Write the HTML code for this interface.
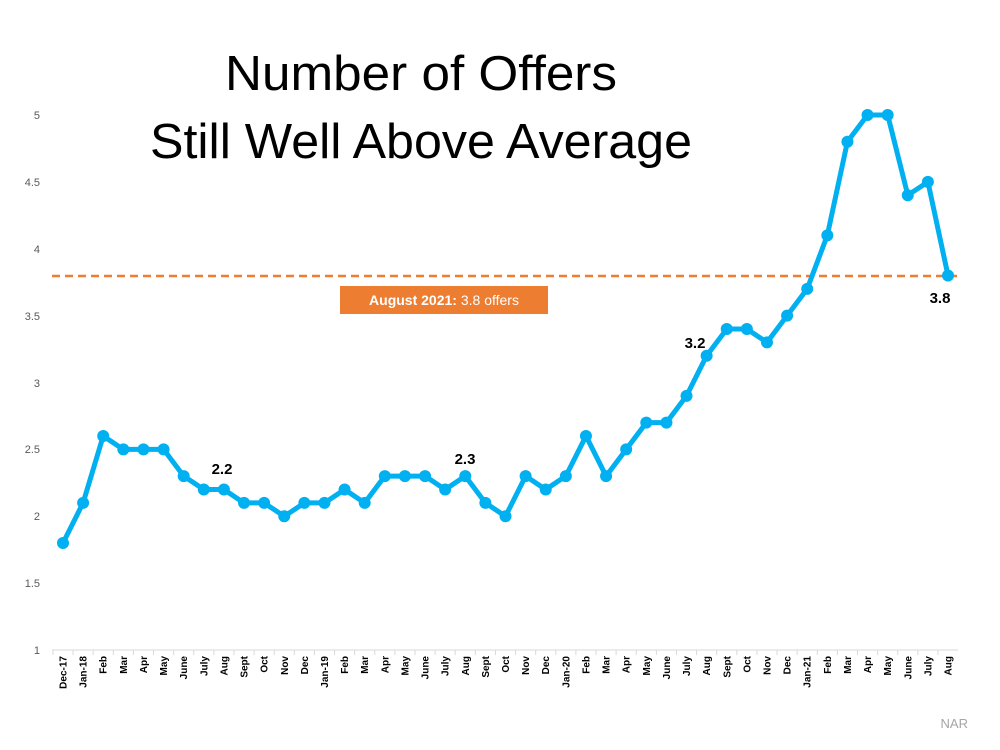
<!DOCTYPE html>
<html><head><meta charset="utf-8"><style>
body{margin:0;background:#fff;}
svg{display:block;font-family:"Liberation Sans",sans-serif;}
</style></head><body>
<svg width="1000" height="750" viewBox="0 0 1000 750" xmlns="http://www.w3.org/2000/svg">
<text x="421" y="90" font-size="49" text-anchor="middle" textLength="392" lengthAdjust="spacingAndGlyphs">Number of Offers</text>
<text x="421" y="158" font-size="49" text-anchor="middle" textLength="542" lengthAdjust="spacingAndGlyphs">Still Well Above Average</text>
<g font-size="11" fill="#595959" text-anchor="end">
<text x="40" y="119">5</text><text x="40" y="186">4.5</text><text x="40" y="253">4</text><text x="40" y="320">3.5</text><text x="40" y="387">3</text><text x="40" y="453">2.5</text><text x="40" y="520">2</text><text x="40" y="587">1.5</text><text x="40" y="654">1</text>
</g>
<line x1="52" y1="650" x2="958" y2="650" stroke="#d9d9d9" stroke-width="1"/>
<g id="ticks" stroke="#d9d9d9"></g>
<g id="xl" font-size="10" fill="#000" font-weight="bold"></g>
<line x1="52" y1="276" x2="958" y2="276" stroke="#ED7D31" stroke-width="2.5" stroke-dasharray="8,5"/>
<rect x="340" y="286" width="208" height="28" fill="#ED7D31"/>
<text x="444" y="305" font-size="14" fill="#fff" text-anchor="middle"><tspan font-weight="bold">August 2021:</tspan> 3.8 offers</text>
<polyline id="pl" fill="none" stroke="#00B0F0" stroke-width="5" stroke-linejoin="round"/>
<g id="pts" fill="#00B0F0"></g>
<g font-size="15" font-weight="bold">
<text x="222" y="474" text-anchor="middle">2.2</text>
<text x="465" y="464" text-anchor="middle">2.3</text>
<text x="695" y="348" text-anchor="middle">3.2</text>
<text x="940" y="303" text-anchor="middle">3.8</text>
</g>
<text x="968" y="728" font-size="13" fill="#a6a6a6" text-anchor="end">NAR</text>
</svg>
<script>
var v=[1.8,2.1,2.6,2.5,2.5,2.5,2.3,2.2,2.2,2.1,2.1,2.0,2.1,2.1,2.2,2.1,2.3,2.3,2.3,2.2,2.3,2.1,2.0,2.3,2.2,2.3,2.6,2.3,2.5,2.7,2.7,2.9,3.2,3.4,3.4,3.3,3.5,3.7,4.1,4.8,5.0,5.0,4.4,4.5,3.8];
var l=["Dec-17","Jan-18","Feb","Mar","Apr","May","June","July","Aug","Sept","Oct","Nov","Dec","Jan-19","Feb","Mar","Apr","May","June","July","Aug","Sept","Oct","Nov","Dec","Jan-20","Feb","Mar","Apr","May","June","July","Aug","Sept","Oct","Nov","Dec","Jan-21","Feb","Mar","Apr","May","June","July","Aug"];
var ns="http://www.w3.org/2000/svg",p=[],pts=document.getElementById("pts"),xl=document.getElementById("xl"),tk=document.getElementById("ticks");
for(var i=0;i<v.length;i++){var x=63+i*885/44,y=650-(v[i]-1)*133.75;p.push(x.toFixed(1)+","+y.toFixed(1));
var c=document.createElementNS(ns,"circle");c.setAttribute("cx",x);c.setAttribute("cy",y);c.setAttribute("r",6);pts.appendChild(c);
var t=document.createElementNS(ns,"text");t.setAttribute("transform","translate("+(x+3.5)+",656) rotate(-90)");t.setAttribute("text-anchor","end");t.textContent=l[i];xl.appendChild(t);
var ln=document.createElementNS(ns,"line");var tx=x-885/88;ln.setAttribute("x1",tx);ln.setAttribute("x2",tx);ln.setAttribute("y1",650);ln.setAttribute("y2",655);tk.appendChild(ln);}
document.getElementById("pl").setAttribute("points",p.join(" "));
</script>
</body></html>
